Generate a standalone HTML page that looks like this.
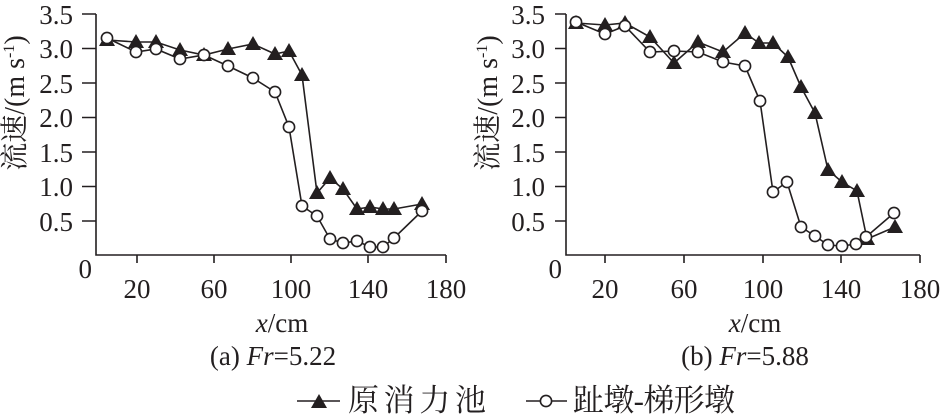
<!DOCTYPE html>
<html><head><meta charset="utf-8"><style>
html,body{margin:0;padding:0;background:#fff;}
svg{display:block;}
text{font-family:"Liberation Serif","Noto Serif CJK SC","Noto Sans CJK SC",serif;fill:#231f20;}
</style></head><body>
<svg id="s" width="941" height="420" viewBox="0 0 941 420" xmlns="http://www.w3.org/2000/svg">
<g stroke="#231f20" stroke-width="1.6" fill="none">
<path d="M96,14V255H446M82,14H96M82,48.5H96M82,83H96M82,117.5H96M82,152H96M82,186.5H96M82,221H96M137,255V263M214,255V263M291,255V263M368,255V263M446,255V263"/>
<path d="M566,14V255H920M555,14H566M555,48.5H566M555,83H566M555,117.5H566M555,152H566M555,186.5H566M555,221H566M605,255V263M684,255V263M763,255V263M841,255V263M920,255V263"/>
</g>
<g font-size="27" text-anchor="end">
<text x="73" y="24">3.5</text><text x="73" y="58">3.0</text><text x="73" y="93">2.5</text><text x="73" y="127">2.0</text><text x="73" y="162">1.5</text><text x="73" y="196">1.0</text><text x="73" y="231">0.5</text><text x="92" y="278">0</text>
<text x="545" y="24">3.5</text><text x="545" y="58">3.0</text><text x="545" y="93">2.5</text><text x="545" y="127">2.0</text><text x="545" y="162">1.5</text><text x="545" y="196">1.0</text><text x="545" y="231">0.5</text><text x="562" y="278">0</text>
</g>
<g font-size="27" text-anchor="middle">
<text x="137" y="298">20</text><text x="214" y="298">60</text><text x="291" y="298">100</text><text x="368" y="298">140</text><text x="446" y="298">180</text>
<text x="605" y="298">20</text><text x="684" y="298">60</text><text x="763" y="298">100</text><text x="841" y="298">140</text><text x="920" y="298">180</text>
<text x="282" y="332"><tspan font-style="italic">x</tspan>/cm</text>
<text x="755" y="332"><tspan font-style="italic">x</tspan>/cm</text>
<text x="273" y="365">(a) <tspan font-style="italic">Fr</tspan>=5.22</text>
<text x="745" y="365">(b) <tspan font-style="italic">Fr</tspan>=5.88</text>
</g>
<g font-size="28" text-anchor="middle">
<text transform="translate(24,103) rotate(-90)">流速/(m  s<tspan font-size="16" dy="-10">-1</tspan><tspan dy="10">)</tspan></text>
<text transform="translate(497,103) rotate(-90)">流速/(m  s<tspan font-size="16" dy="-10">-1</tspan><tspan dy="10">)</tspan></text>
</g>
<g font-size="31">
<text x="348" y="411" textLength="138">原消力池</text>
<text x="573" y="411" textLength="162">趾墩-梯形墩</text>
</g>
<g id="g"></g>
</svg>
<script>
var T1=[[107,40],[136,42],[156,42],[180,50],[204,55],[228,49],[253,44],[275,54],[289,51],[302,75],[317,193],[330,178],[343,189],[357,209],[370,207],[383,209],[394,209],[422,204]];
var C1=[[107,38],[136,52],[156,49],[180,59],[204,55],[228,66],[253,78],[275,92],[289,127],[302,206],[317,216],[330,239],[343,243],[357,241],[370,247],[383,247],[394,238],[422,211]];
var T2=[[576,23],[605,25],[625,23],[650,37],[674,63],[698,42],[723,52],[745,33],[759,43],[773,43],[788,57],[801,87],[815,113],[828,170],[842,182],[857,191],[867,239],[895,227]];
var C2=[[576,22],[605,34],[625,26],[650,52],[674,51],[698,52],[723,62],[745,66],[760,101],[773,192],[787,182],[801,227],[815,236],[828,245],[842,246],[856,244],[866,237],[894,213]];
var h='';
function line(p){h+='<polyline fill="none" stroke="#231f20" stroke-width="1.6" points="'+p.map(function(q){return q.join(',')}).join(' ')+'"/>';}
function tri(x,y){h+='<polygon fill="#231f20" points="'+x+','+(y-8)+' '+(x-8)+','+(y+6)+' '+(x+8)+','+(y+6)+'"/>';}
function cir(x,y){h+='<circle cx="'+x+'" cy="'+y+'" r="5.6" fill="#fff" stroke="#231f20" stroke-width="1.6"/>';}
[T1,T2].forEach(function(a){line(a);});
[C1,C2].forEach(function(a){line(a);});
T1.concat(T2).forEach(function(q){tri(q[0],q[1]);});
C1.concat(C2).forEach(function(q){cir(q[0],q[1]);});
h+='<path d="M297,401H340M526,401H567" stroke="#231f20" stroke-width="1.6"/>';
tri(319,402);cir(546,401);
document.getElementById('g').innerHTML=h;
</script>
</body></html>
